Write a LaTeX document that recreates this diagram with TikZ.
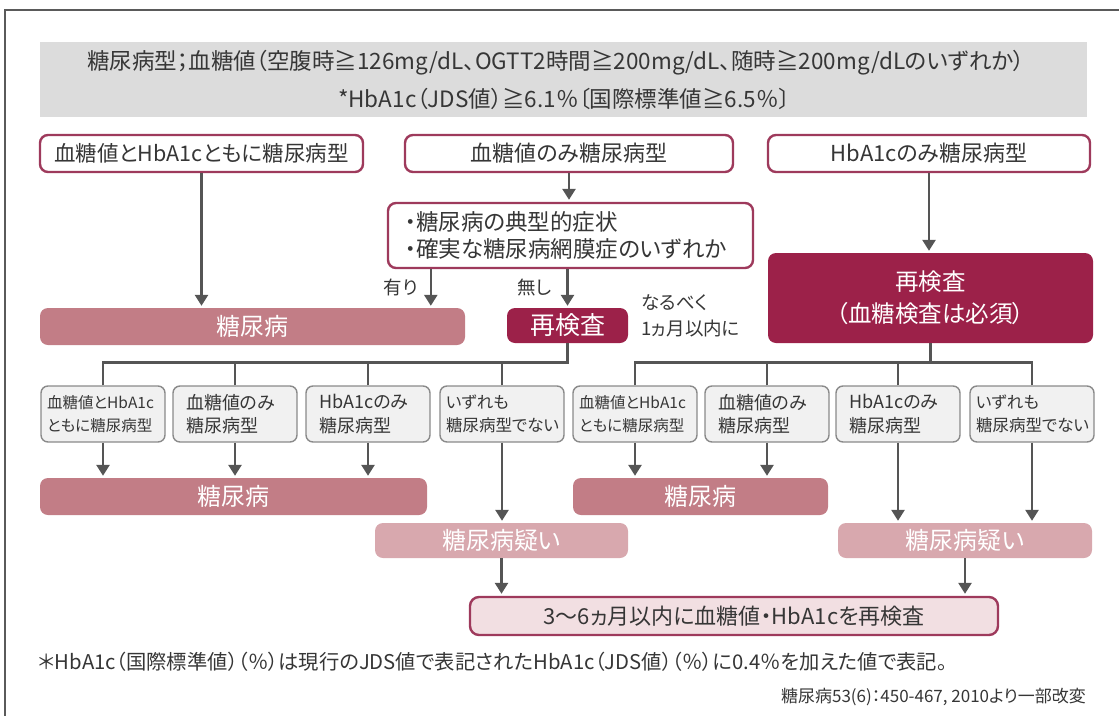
\documentclass[tikz,border=0pt]{standalone}
\usepackage{fontspec}
\setmainfont{Noto Sans CJK JP}[RawFeature=+palt]
\usetikzlibrary{arrows.meta,calc}
\definecolor{txt}{HTML}{363636}
\definecolor{frm}{HTML}{5A5A5A}
\definecolor{hdr}{HTML}{DCDCDC}
\definecolor{wine}{HTML}{9C2149}
\definecolor{wineline}{HTML}{9E3A5C}
\definecolor{rose}{HTML}{C27D86}
\definecolor{pale}{HTML}{D8A8AE}
\definecolor{blush}{HTML}{F2DFE2}
\definecolor{smallfill}{HTML}{F1F1F1}
\definecolor{smallline}{HTML}{8A8A8A}
\definecolor{arrc}{HTML}{555555}
\newcommand\fz[1]{\fontsize{#1}{#1}\selectfont}
\tikzset{
  every node/.style={text=txt, inner sep=0pt},
  whitebox/.style={draw=wineline, line width=2.4pt, fill=white, rounded corners=8pt},
  darkbox/.style={fill=wine, rounded corners=8pt, text=white},
  rosebox/.style={fill=rose, rounded corners=8pt, text=white},
  palebox/.style={fill=pale, rounded corners=8pt, text=white},
  finalbox/.style={draw=wineline, line width=2.4pt, fill=blush, rounded corners=9pt},
  smallbox/.style={draw=smallline, line width=1.4pt, fill=smallfill, rounded corners=7pt,
     minimum width=124pt, minimum height=56pt, align=left, text width=112pt, font=\fontsize{18}{23.5}\selectfont},
  arr/.style={draw=arrc, line width=2.6pt, -{Triangle[width=13pt,length=11pt]}, shorten >=2pt},
  ln/.style={draw=arrc, line width=2.6pt},
}
\begin{document}
\begin{tikzpicture}[x=1pt,y=-1pt]
\useasboundingbox (0,0) rectangle (1119,715);
% outer frame
\draw[frm, line width=1.6pt] (5,720) -- (5,10) -- (1125,10);
% header
\node[fill=hdr, minimum width=1047pt, minimum height=75pt] (hdr) at (563.5,79.5) {};
\node[font=\fz{22.5}, align=center] (hdrtxt) at (556,80)
  {糖尿病型；血糖値（空腹時≧126mg/dL、OGTT2時間≧200mg/dL、随時≧200mg/dLのいずれか）\\[11.5pt]
   \hspace*{16pt}*HbA1c（JDS値）≧6.1％〔国際標準値≧6.5％〕};
% top row
\node[whitebox, minimum width=323pt, minimum height=37pt, font=\fz{21.5}] (A) at (201.5,153.5) {血糖値とHbA1cともに糖尿病型};
\node[whitebox, minimum width=328pt, minimum height=37pt, font=\fz{22}] (B) at (569,153.5) {血糖値のみ糖尿病型};
\node[whitebox, minimum width=322pt, minimum height=37pt, font=\fz{22}] (C) at (929,153.5) {HbA1cのみ糖尿病型};
% symptom box
\node[whitebox, minimum width=365pt, minimum height=65pt, font=\fz{22.5}, align=left, text width=331pt] (D) at (570.5,235.5)
  {・糖尿病の典型的症状\\[5pt]・確実な糖尿病網膜症のいずれか};
% level 2
\node[rosebox, minimum width=425pt, minimum height=37pt, font=\fz{24}] (DM1) at (252.5,326.5) {糖尿病};
\node[darkbox, minimum width=121pt, minimum height=35pt, font=\fz{25}] (R1) at (567.5,325.5) {再検査};
\node[darkbox, minimum width=325pt, minimum height=90pt, font=\fz{23.5}, align=center] (R2) at (930.5,298)
  {再検査\\[8pt]（血糖検査は必須）};
\node[font=\fz{18.5}, anchor=east] (yes) at (418,287) {有り};
\node[font=\fz{18.5}, anchor=east] (no) at (552,287) {無し};
\node[font=\fz{18.5}, anchor=west, align=left] (soon) at (641,316) {なるべく\\[7pt]1ヵ月以内に};
% connectors top
\draw[arr] (A.south) -- (A.south |- DM1.north);
\draw[arr] (B.south) -- (B.south |- D.north);
\draw[arr] ([xshift=44pt]D.south west) -- ([xshift=44pt]D.south west |- DM1.north);
\draw[arr] (R1.north |- D.south) -- (R1.north);
\draw[arr] (C.south) -- (C.south |- R2.north);
% small boxes
\node[smallbox] (s1) at (103,414) {{\fontsize{15.5}{23.5}\selectfont 血糖値とHbA1c\\ともに糖尿病型}};
\node[smallbox] (s2) at (235,414) {\hspace*{7pt}血糖値のみ\\\hspace*{7pt}糖尿病型};
\node[smallbox] (s3) at (368,414) {\hspace*{7pt}HbA1cのみ\\\hspace*{7pt}糖尿病型};
\node[smallbox] (s4) at (502,414) {{\fontsize{16.5}{23.5}\selectfont いずれも\\糖尿病型でない}};
\node[smallbox] (s5) at (635,414) {{\fontsize{15.5}{23.5}\selectfont 血糖値とHbA1c\\ともに糖尿病型}};
\node[smallbox] (s6) at (767,414) {\hspace*{7pt}血糖値のみ\\\hspace*{7pt}糖尿病型};
\node[smallbox] (s7) at (898,414) {\hspace*{7pt}HbA1cのみ\\\hspace*{7pt}糖尿病型};
\node[smallbox] (s8) at (1032,414) {{\fontsize{16.5}{23.5}\selectfont いずれも\\糖尿病型でない}};
% buses
\foreach \s in {s1,s2,s3,s4} \draw[ln] (\s.north) -- ++(0,-23) -| (R1.south);
\foreach \s in {s5,s6,s7,s8} \draw[ln] (\s.north) -- ++(0,-23) -| (R2.south);
% level 3
\node[rosebox, minimum width=387pt, minimum height=37pt, font=\fz{24}] (DM2) at (233.5,496.5) {糖尿病};
\node[rosebox, minimum width=255pt, minimum height=37pt, font=\fz{24}] (DM3) at (700.5,496.5) {糖尿病};
\node[palebox, minimum width=253pt, minimum height=35pt, font=\fz{24}] (Q1) at (501.5,540.5) {糖尿病疑い};
\node[palebox, minimum width=254pt, minimum height=35pt, font=\fz{24}] (Q2) at (965,540.5) {糖尿病疑い};
\foreach \s in {s1,s2,s3} \draw[arr] (\s.south) -- (\s.south |- DM2.north);
\foreach \s in {s5,s6} \draw[arr] (\s.south) -- (\s.south |- DM3.north);
\draw[arr] (s4.south) -- (s4.south |- Q1.north);
\foreach \s in {s7,s8} \draw[arr] (\s.south) -- (\s.south |- Q2.north);
% final
\node[finalbox, minimum width=528pt, minimum height=38pt, font=\fz{22}] (F) at (734,616) {3～6ヵ月以内に血糖値・HbA1cを再検査};
\draw[arr] (Q1.south) -- (Q1.south |- F.north);
\draw[arr] (Q2.south) -- (Q2.south |- F.north);
% notes
\node[font=\fz{20.3}, anchor=west] (note) at (38,662) {＊HbA1c（国際標準値）（％）は現行のJDS値で表記されたHbA1c（JDS値）（％）に0.4％を加えた値で表記。};
\node[font=\fz{17}, anchor=east] (cite) at (1086,697) {糖尿病53(6)：450-467, 2010より一部改変};
\end{tikzpicture}
\end{document}
